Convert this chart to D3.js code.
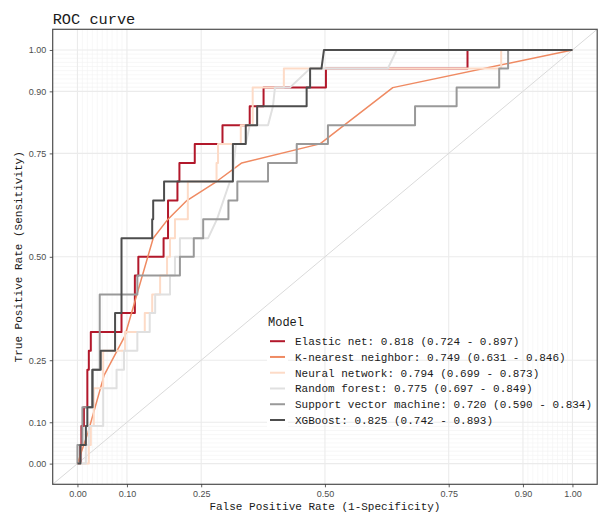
<!DOCTYPE html>
<html lang="en">
<head>
<meta charset="UTF-8">
<title>ROC curve</title>
<style>
    body { margin: 0; background: #fff; }
    svg { display: block; font-family: "Liberation Mono", "DejaVu Sans Mono", monospace; }
    .grid-major { stroke: #ebebeb; stroke-width: 1.1; }
    .grid-minor { stroke: #f1f1f1; stroke-width: 0.6; }
    .axis text { fill: #4d4d4d; font-size: 9px; }
    .axis line { stroke: #333; stroke-width: 0.8; }
    .axis .domain { display: none; }
    .axis-title { fill: #1a1a1a; font-size: 11px; text-anchor: middle; }
    .legend-label { fill: #1a1a1a; font-size: 11px; }
</style>
</head>
<body>
<div id="chart"></div>
<script src="https://d3js.org/d3.v7.min.js"></script>
<script>
// model names and AUC (95% CI) shown in the legend
const modelNames = ["Elastic net", "K-nearest neighbor", "Neural network", "Random forest", "Support vector machine", "XGBoost"];
const aucValues = [0.818, 0.749, 0.794, 0.775, 0.720, 0.825];
const ciLower = [0.724, 0.631, 0.699, 0.697, 0.590, 0.742];
const ciUpper = [0.897, 0.846, 0.873, 0.849, 0.834, 0.893];

// axis breaks
const breaks = [0, 0.1, 0.25, 0.5, 0.75, 0.9, 1];
const breakLabels = ["0.00", "0.10", "0.25", "0.50", "0.75", "0.90", "1.00"];
const minorBreaks = [0.01, 0.02, 0.03, 0.04, 0.05, 0.06, 0.07, 0.08, 0.09,
                     0.91, 0.92, 0.93, 0.94, 0.95, 0.96, 0.97, 0.98, 0.99];

// ROC points [1 - specificity, sensitivity]
const elasticNet = [[0, 0], [0.006, 0], [0.006, 0.045], [0.008, 0.045], [0.008, 0.091], [0.013, 0.091],
    [0.013, 0.136], [0.020, 0.136], [0.020, 0.227], [0.023, 0.227], [0.023, 0.273], [0.027, 0.273],
    [0.027, 0.318], [0.089, 0.318], [0.089, 0.364], [0.116, 0.364], [0.116, 0.455], [0.123, 0.455],
    [0.123, 0.5], [0.174, 0.5], [0.174, 0.545], [0.183, 0.545], [0.183, 0.636], [0.202, 0.636],
    [0.202, 0.682], [0.206, 0.682], [0.206, 0.727], [0.237, 0.727], [0.237, 0.773], [0.293, 0.773],
    [0.293, 0.818], [0.348, 0.818], [0.348, 0.864], [0.376, 0.864], [0.376, 0.909], [0.502, 0.909],
    [0.502, 0.955], [0.788, 0.955], [0.788, 1], [1, 1]];

const knn = [[0, 0], [0.021, 0.074], [0.054, 0.214], [0.096, 0.309], [0.153, 0.545], [0.183, 0.591],
    [0.221, 0.636], [0.281, 0.682], [0.332, 0.727], [0.490, 0.773], [0.637, 0.909], [1, 1]];

const neuralNet = [[0, 0], [0.023, 0], [0.023, 0.045], [0.027, 0.045], [0.027, 0.091], [0.033, 0.091],
    [0.033, 0.182], [0.052, 0.182], [0.052, 0.273], [0.096, 0.273], [0.096, 0.318], [0.136, 0.318],
    [0.136, 0.364], [0.151, 0.364], [0.151, 0.409], [0.167, 0.409], [0.167, 0.455], [0.181, 0.455],
    [0.181, 0.5], [0.187, 0.5], [0.187, 0.545], [0.197, 0.545], [0.197, 0.591], [0.223, 0.591],
    [0.223, 0.682], [0.281, 0.682], [0.281, 0.727], [0.284, 0.727], [0.284, 0.773], [0.330, 0.773],
    [0.330, 0.818], [0.354, 0.818], [0.354, 0.909], [0.417, 0.909], [0.417, 0.955], [0.856, 0.955],
    [0.856, 1], [1, 1]];

const randomForest = [[0, 0], [0.017, 0], [0.017, 0.045], [0.023, 0.045], [0.023, 0.091], [0.052, 0.091],
    [0.052, 0.182], [0.079, 0.182], [0.079, 0.227], [0.094, 0.227], [0.094, 0.273], [0.121, 0.273],
    [0.121, 0.318], [0.146, 0.318], [0.146, 0.364], [0.157, 0.364], [0.157, 0.409], [0.187, 0.409],
    [0.187, 0.455], [0.197, 0.455], [0.197, 0.5], [0.207, 0.5], [0.207, 0.545], [0.264, 0.545],
    [0.282, 0.591], [0.308, 0.682], [0.314, 0.682], [0.316, 0.727], [0.320, 0.773], [0.340, 0.773],
    [0.348, 0.818], [0.385, 0.818], [0.395, 0.864], [0.399, 0.909], [0.429, 0.909], [0.470, 0.955],
    [0.627, 0.955], [0.645, 1], [1, 1]];

const svmModel = [[0, 0], [0, 0.045], [0.010, 0.045], [0.010, 0.136], [0.031, 0.136], [0.031, 0.227],
    [0.045, 0.227], [0.045, 0.409], [0.121, 0.409], [0.121, 0.455], [0.207, 0.455], [0.207, 0.5],
    [0.235, 0.5], [0.235, 0.545], [0.254, 0.545], [0.254, 0.591], [0.305, 0.591], [0.305, 0.636],
    [0.323, 0.636], [0.323, 0.682], [0.385, 0.682], [0.385, 0.727], [0.443, 0.727], [0.443, 0.773],
    [0.506, 0.773], [0.506, 0.818], [0.682, 0.818], [0.682, 0.864], [0.766, 0.864], [0.766, 0.909],
    [0.852, 0.909], [0.852, 0.955], [0.870, 0.955], [0.870, 1], [1, 1]];

const xgboost = [[0, 0], [0.006, 0], [0.006, 0.045], [0.017, 0.045], [0.017, 0.091], [0.020, 0.091],
    [0.020, 0.136], [0.030, 0.136], [0.030, 0.227], [0.047, 0.227], [0.047, 0.273], [0.076, 0.273],
    [0.076, 0.364], [0.089, 0.364], [0.089, 0.545], [0.151, 0.545], [0.151, 0.591], [0.153, 0.591],
    [0.153, 0.636], [0.175, 0.636], [0.175, 0.682], [0.314, 0.682], [0.314, 0.773], [0.340, 0.773],
    [0.340, 0.818], [0.363, 0.818], [0.363, 0.864], [0.463, 0.864], [0.463, 0.909], [0.470, 0.909],
    [0.470, 0.955], [0.493, 0.955], [0.498, 1], [1, 1]];

const curves = [elasticNet, knn, neuralNet, randomForest, svmModel, xgboost];
const colors = ["#b2182b", "#ef8a62", "#fddbc7", "#e0e0e0", "#999999", "#4d4d4d"];
const lineWidths = [2, 1.5, 2, 2, 2, 2];

const width = 604, height = 513;
const panel = { left: 52.7, right: 597.2, top: 29.3, bottom: 484.3 };

const x = d3.scaleLinear().domain([-0.05, 1.05]).range([panel.left, panel.right]);
const y = d3.scaleLinear().domain([-0.05, 1.05]).range([panel.bottom, panel.top]);

const svg = d3.select("#chart")
    .append("svg")
    .attr("width", width)
    .attr("height", height);

svg.append("rect")
    .attr("width", width)
    .attr("height", height)
    .attr("fill", "#fff");

// grid
const grid = svg.append("g");
grid.selectAll(".vminor").data(minorBreaks).enter().append("line")
    .attr("class", "grid-minor")
    .attr("x1", d => x(d)).attr("x2", d => x(d))
    .attr("y1", panel.top).attr("y2", panel.bottom);
grid.selectAll(".hminor").data(minorBreaks).enter().append("line")
    .attr("class", "grid-minor")
    .attr("y1", d => y(d)).attr("y2", d => y(d))
    .attr("x1", panel.left).attr("x2", panel.right);
grid.selectAll(".vmajor").data(breaks).enter().append("line")
    .attr("class", "grid-major")
    .attr("x1", d => x(d)).attr("x2", d => x(d))
    .attr("y1", panel.top).attr("y2", panel.bottom);
grid.selectAll(".hmajor").data(breaks).enter().append("line")
    .attr("class", "grid-major")
    .attr("y1", d => y(d)).attr("y2", d => y(d))
    .attr("x1", panel.left).attr("x2", panel.right);

// reference diagonal
svg.append("line")
    .attr("x1", x(-0.05)).attr("y1", y(-0.05))
    .attr("x2", x(1.05)).attr("y2", y(1.05))
    .attr("stroke", "#dadada")
    .attr("stroke-width", 1);

// ROC curves
const line = d3.line().x(d => x(d[0])).y(d => y(d[1]));
svg.append("g")
    .selectAll("path")
    .data(curves)
    .enter()
    .append("path")
    .attr("d", line)
    .attr("fill", "none")
    .attr("stroke", (d, i) => colors[i])
    .attr("stroke-width", (d, i) => lineWidths[i])
    .attr("stroke-linejoin", "round");

// panel border
svg.append("rect")
    .attr("x", panel.left).attr("y", panel.top)
    .attr("width", panel.right - panel.left)
    .attr("height", panel.bottom - panel.top)
    .attr("fill", "none")
    .attr("stroke", "#4d4d4d")
    .attr("stroke-width", 1.2);

// axes
svg.append("g")
    .attr("class", "axis")
    .attr("transform", `translate(0,${panel.bottom})`)
    .call(d3.axisBottom(x).tickValues(breaks).tickFormat((d, i) => breakLabels[i]).tickSize(3).tickPadding(3.6));

svg.append("g")
    .attr("class", "axis")
    .attr("transform", `translate(${panel.left},0)`)
    .call(d3.axisLeft(y).tickValues(breaks).tickFormat((d, i) => breakLabels[i]).tickSize(3).tickPadding(3.5));

svg.selectAll(".axis text").attr("font-family", null);

svg.append("text")
    .attr("class", "axis-title")
    .attr("x", (panel.left + panel.right) / 2)
    .attr("y", 509.5)
    .text("False Positive Rate (1-Specificity)");

svg.append("text")
    .attr("class", "axis-title")
    .attr("transform", `translate(22,${(panel.top + panel.bottom) / 2}) rotate(-90)`)
    .text("True Positive Rate (Sensitivity)");

svg.append("text")
    .attr("x", panel.left)
    .attr("y", 24)
    .attr("fill", "#1a1a1a")
    .style("font-size", "15.3px")
    .text("ROC curve");

// legend
const legend = svg.append("g").attr("transform", "translate(268,0)");
legend.append("text")
    .attr("x", 0)
    .attr("y", 325.7)
    .attr("fill", "#1a1a1a")
    .style("font-size", "12px")
    .text("Model");

const rowY = d3.scalePoint().domain(modelNames).range([341.2, 420]);
const rows = legend.selectAll(".row")
    .data(modelNames)
    .enter()
    .append("g")
    .attr("transform", d => `translate(0,${rowY(d)})`);

rows.append("rect")
    .attr("x", -1).attr("y", -8)
    .attr("width", 21).attr("height", 16)
    .attr("fill", "#fff");

rows.append("line")
    .attr("x1", 2).attr("x2", 17)
    .attr("stroke", (d, i) => colors[i])
    .attr("stroke-width", 2);

rows.append("text")
    .attr("class", "legend-label")
    .attr("x", 27)
    .attr("y", 4)
    .text((d, i) => `${d}: ${aucValues[i].toFixed(3)} (${ciLower[i].toFixed(3)} - ${ciUpper[i].toFixed(3)})`);
</script>
</body>
</html>
